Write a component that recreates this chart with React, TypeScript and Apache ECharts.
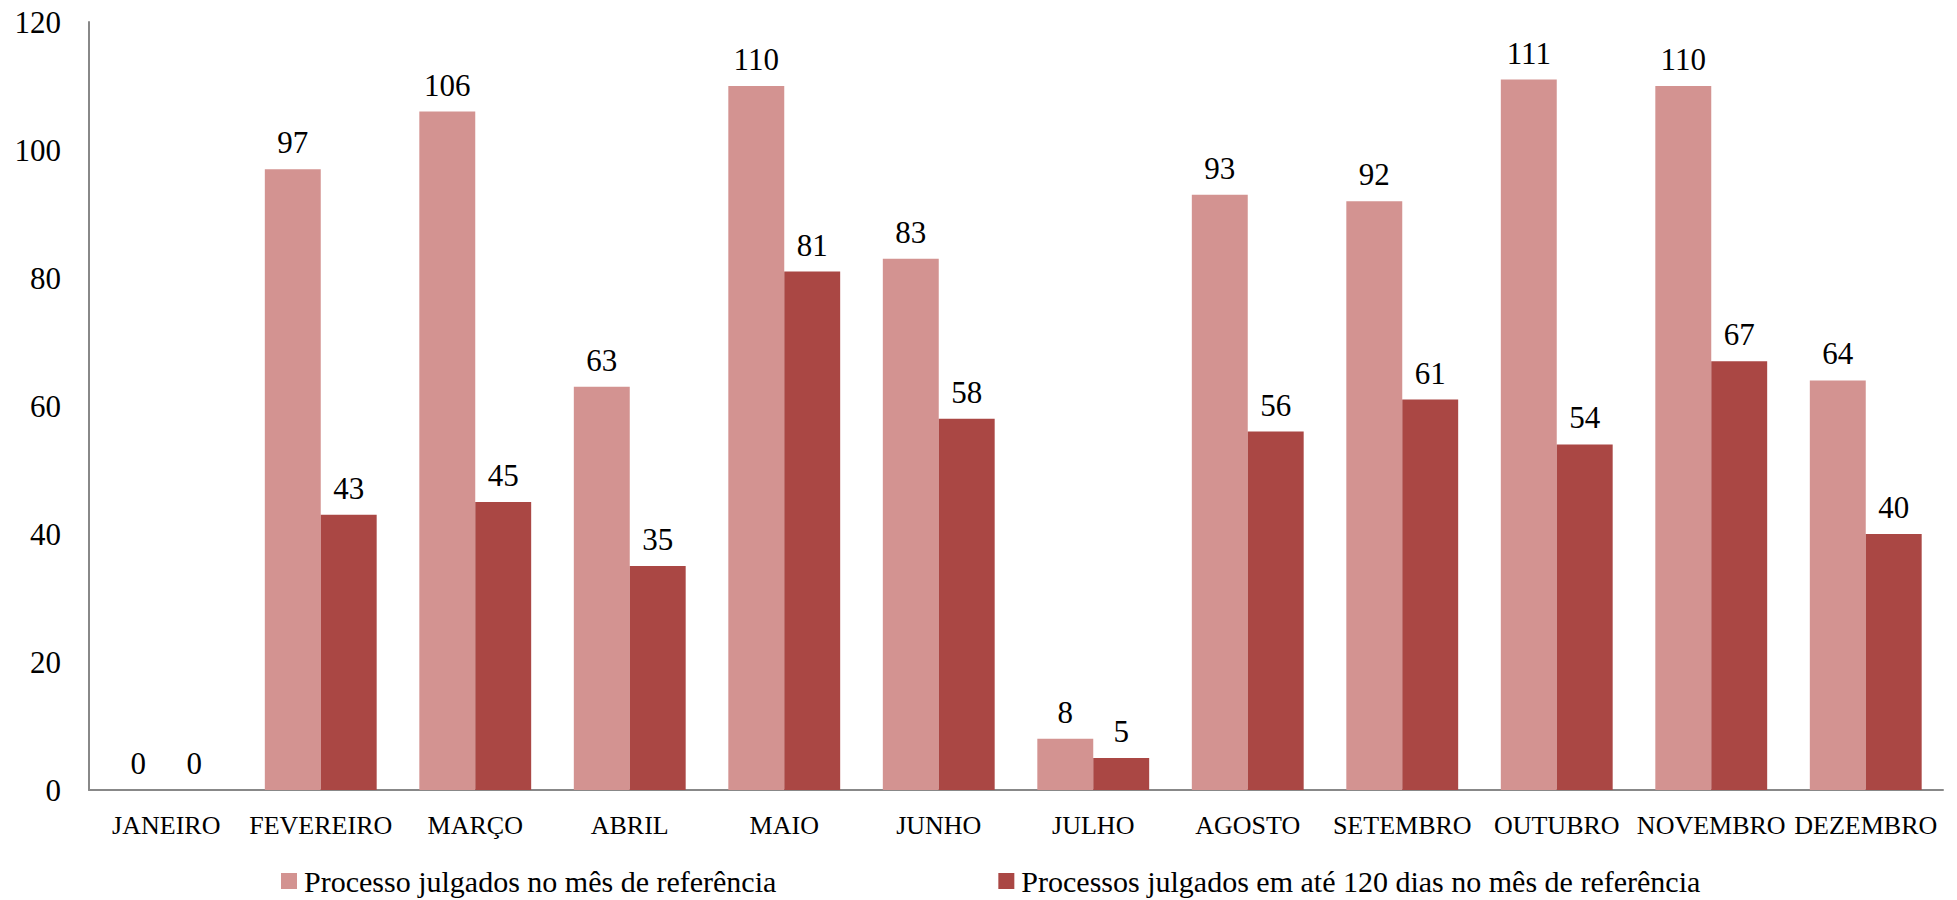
import React, { useEffect, useRef } from "react";
import * as echarts from "echarts";

const categories = ["JANEIRO", "FEVEREIRO", "MARÇO", "ABRIL", "MAIO", "JUNHO", "JULHO", "AGOSTO", "SETEMBRO", "OUTUBRO", "NOVEMBRO", "DEZEMBRO"];
const julgadosMes = [0, 97, 106, 63, 110, 83, 8, 93, 92, 111, 110, 64];
const julgados120 = [0, 43, 45, 35, 81, 58, 5, 56, 61, 54, 67, 40];
const seriesNames = ["Processo julgados no mês de referência", "Processos julgados em até 120 dias no mês de referência"];

const FONT = "'Liberation Serif', 'DejaVu Serif', serif";

export default function App() {
  const ref = useRef<HTMLDivElement>(null);
  useEffect(() => {
    document.body.style.margin = "0";
    const chart = echarts.init(ref.current!, null, { renderer: "svg" });
    chart.setOption({
      animation: false,
      backgroundColor: "#ffffff",
      textStyle: { fontFamily: FONT, color: "#000" },
      grid: { left: 89, right: 14, top: 22, bottom: 110, containLabel: false },
      legend: {
        left: 276,
        top: 861,
        itemWidth: 16,
        itemHeight: 16,
        itemGap: 222,
        icon: "rect",
        textStyle: { fontFamily: FONT, fontSize: 30, color: "#000", padding: [0, 0, 0, 2] },
        data: seriesNames,
      },
      xAxis: {
        type: "category",
        data: categories,
        axisLine: { lineStyle: { color: "#888888", width: 2 } },
        axisTick: { show: false },
        axisLabel: { fontFamily: FONT, fontSize: 26, color: "#000", margin: 22, interval: 0 },
      },
      yAxis: {
        type: "value",
        min: 0,
        max: 120,
        interval: 20,
        splitLine: { show: false },
        axisLine: { show: true, lineStyle: { color: "#888888", width: 2 } },
        axisTick: { show: false },
        axisLabel: { fontFamily: FONT, fontSize: 31, color: "#000", margin: 28 },
      },
      series: [
        {
          name: seriesNames[0],
          type: "bar",
          data: julgadosMes,
          barWidth: "36.2%",
          barGap: "0%",
          itemStyle: { color: "#D39391" },
          label: { show: true, position: "top", distance: 11, fontFamily: FONT, fontSize: 31, color: "#000" },
        },
        {
          name: seriesNames[1],
          type: "bar",
          data: julgados120,
          barWidth: "36.2%",
          barGap: "0%",
          itemStyle: { color: "#AA4744" },
          label: { show: true, position: "top", distance: 11, fontFamily: FONT, fontSize: 31, color: "#000" },
        },
      ],
    });
    return () => chart.dispose();
  }, []);
  return <div ref={ref} style={{ width: 1957, height: 900 }} />;
}
